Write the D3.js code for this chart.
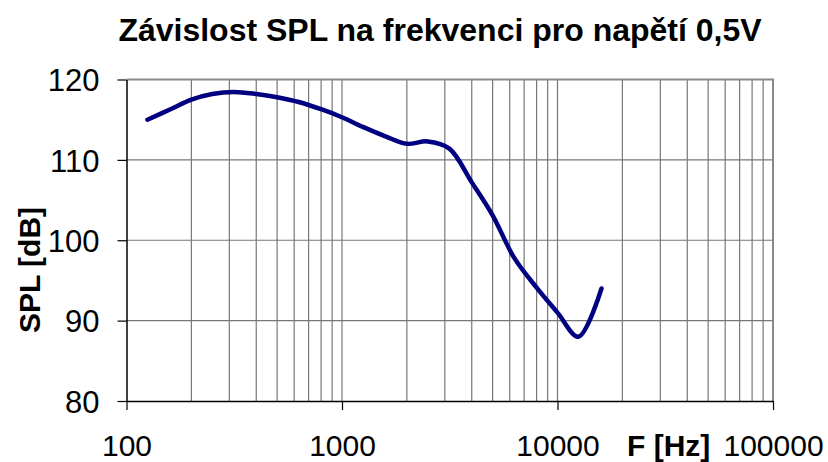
<!DOCTYPE html>
<html>
<head>
<meta charset="utf-8">
<script src="https://cdn.jsdelivr.net/npm/d3@7"></script>
<style>
  body { margin: 0; background: #fff; }
  text { font-family: "Liberation Sans", Arial, sans-serif; }
</style>
</head>
<body>
<div id="chart"></div>
<script>
// data
const freqs = [125, 160, 200, 250, 315, 400, 500, 630, 800, 1000, 1250, 1600,
  2000, 2500, 3150, 4000, 5000, 6300, 8000, 10000, 12500, 16000];
const spl = [115.0, 116.3, 117.5, 118.2, 118.45, 118.2, 117.8, 117.2, 116.3, 115.3, 114.1, 112.9,
  112.0, 112.3, 111.4, 107.2, 103.1, 97.8, 94.1, 91.0, 88.0, 94.0];
const xTicks = [100, 1000, 10000, 100000];
const yTicks = [80, 90, 100, 110, 120];

const W = 828, H = 462;
const plotLeft = 126.5, plotRight = 773, plotTop = 79.5, plotBottom = 401;

const svg = d3.select("#chart")
  .append("svg")
  .attr("width", W)
  .attr("height", H);

const x = d3.scaleLog().domain([100, 100000]).range([plotLeft, plotRight]);
const y = d3.scaleLinear().domain([80, 120]).range([plotBottom, plotTop]);

// vertical grid (all log ticks)
svg.append("g")
  .selectAll("line")
  .data(x.ticks().filter(d => d > 100 && d < 100000))
  .join("line")
  .attr("x1", d => x(d)).attr("x2", d => x(d))
  .attr("y1", plotTop).attr("y2", plotBottom)
  .attr("stroke", "#777")
  .attr("stroke-width", 1.2);

// horizontal grid
svg.append("g")
  .selectAll("line")
  .data(yTicks.filter(d => d > 80 && d < 120))
  .join("line")
  .attr("x1", plotLeft).attr("x2", plotRight)
  .attr("y1", d => y(d)).attr("y2", d => y(d))
  .attr("stroke", "#777")
  .attr("stroke-width", 1.2);

// plot frame (top / right)
svg.append("path")
  .attr("d", `M${plotLeft},${plotTop}H${plotRight}V${plotBottom}`)
  .attr("fill", "none")
  .attr("stroke", "#888")
  .attr("stroke-width", 2);

// y axis
const yAxis = svg.append("g")
  .attr("transform", `translate(${plotLeft},0)`)
  .call(d3.axisLeft(y).tickValues(yTicks).tickSizeInner(9).tickSizeOuter(0).tickPadding(18));
yAxis.select(".domain").attr("stroke", "#000").attr("stroke-width", 1.5);
yAxis.selectAll(".tick line").attr("stroke", "#000").attr("stroke-width", 1.2);
yAxis.selectAll(".tick text")
  .attr("font-size", 31)
  .attr("font-family", "Liberation Sans, Arial, sans-serif")
  .attr("fill", "#000")
  .attr("dy", "0.36em");

// x axis
const xAxis = svg.append("g")
  .attr("transform", `translate(0,${plotBottom})`)
  .call(d3.axisBottom(x).tickValues(xTicks).tickFormat(d3.format("d")).tickSizeInner(9).tickSizeOuter(0));
xAxis.select(".domain").attr("stroke", "#000").attr("stroke-width", 1.5);
xAxis.selectAll(".tick line").attr("stroke", "#000").attr("stroke-width", 1.2);
xAxis.selectAll(".tick text")
  .attr("font-size", 30)
  .attr("font-family", "Liberation Sans, Arial, sans-serif")
  .attr("fill", "#000")
  .attr("y", 55)
  .attr("dy", 0);

// the curve
const line = d3.line()
  .x((d, i) => x(freqs[i]))
  .y(d => y(d))
  .curve(d3.curveCatmullRom.alpha(0.5));

svg.append("path")
  .datum(spl)
  .attr("d", line)
  .attr("fill", "none")
  .attr("stroke", "#000080")
  .attr("stroke-width", 4.5)
  .attr("stroke-linecap", "round")
  .attr("stroke-linejoin", "round");

// title
svg.append("text")
  .attr("x", 440)
  .attr("y", 41)
  .attr("text-anchor", "middle")
  .attr("font-size", 32)
  .attr("font-weight", "bold")
  .text("Závislost SPL na frekvenci pro napětí 0,5V");

// axis titles
svg.append("text")
  .attr("transform", "translate(40,270) rotate(-90)")
  .attr("text-anchor", "middle")
  .attr("font-size", 30)
  .attr("font-weight", "bold")
  .text("SPL [dB]");

svg.append("text")
  .attr("x", 627)
  .attr("y", 456)
  .attr("font-size", 30)
  .attr("font-weight", "bold")
  .text("F [Hz]");
</script>
</body>
</html>
